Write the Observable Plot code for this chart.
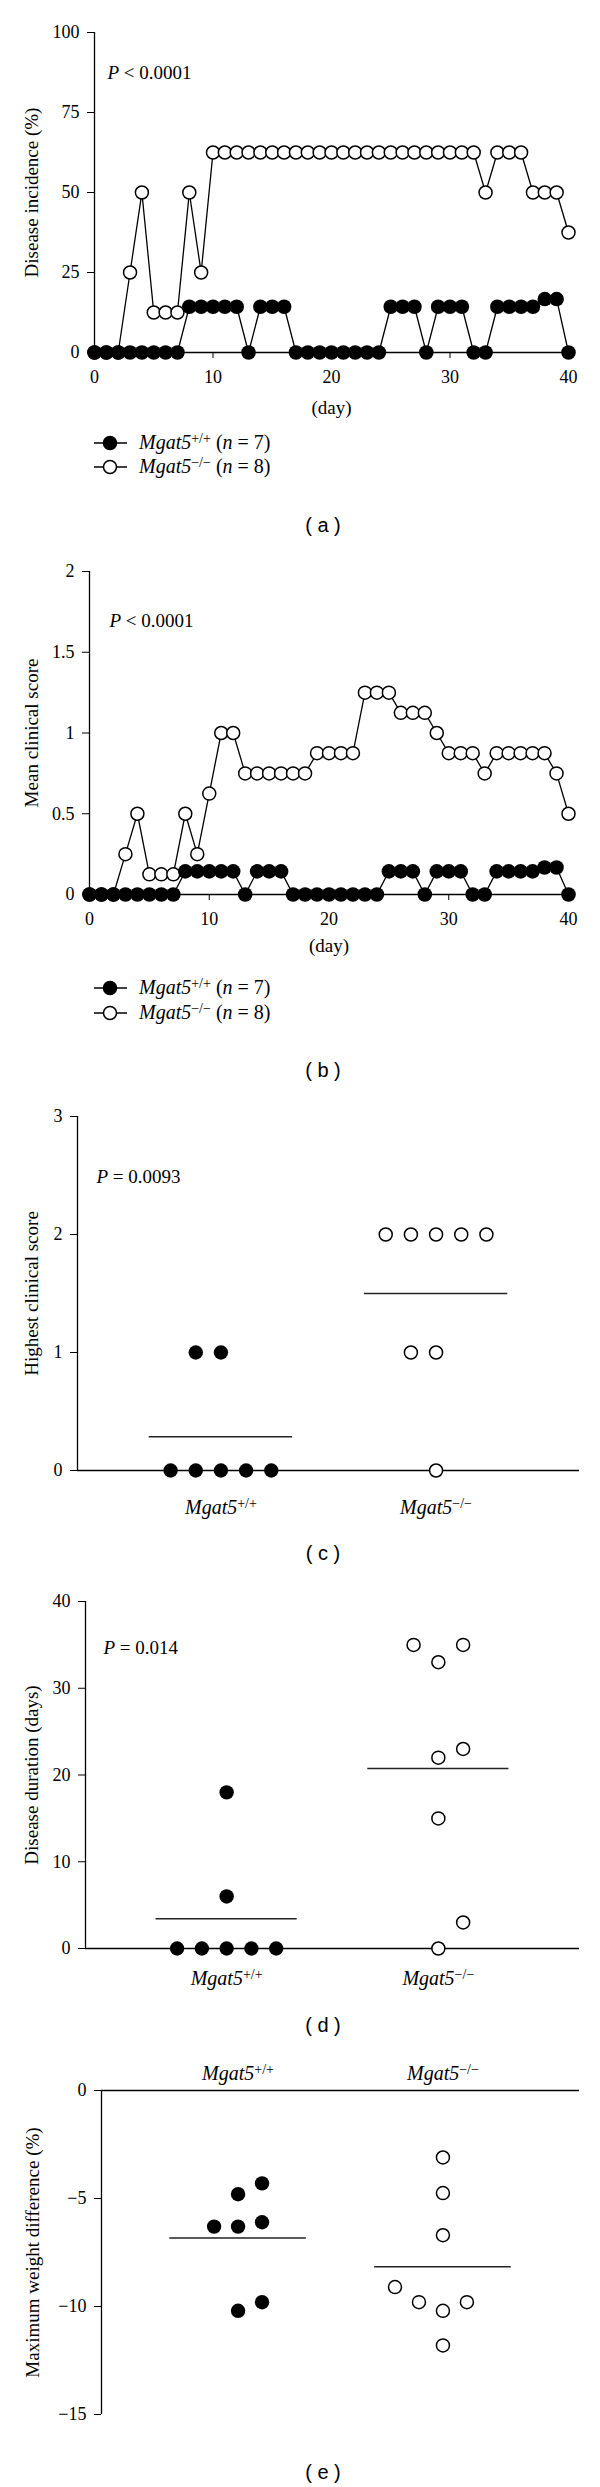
<!DOCTYPE html>
<html><head><meta charset="utf-8">
<script src="https://cdn.jsdelivr.net/npm/d3@7"></script>
<script src="https://cdn.jsdelivr.net/npm/@observablehq/plot@0.6"></script>
<style>
body{margin:0;background:#fff;}
#root{position:relative;width:600px;height:2487px;font-family:"Liberation Serif","Times New Roman",serif;color:#000;overflow:hidden;}
.blk{position:absolute;left:0;}
.cap{position:absolute;font-family:"Liberation Sans",Arial,sans-serif;font-size:20px;transform:translate(-50%,-50%);white-space:pre;line-height:1;}
.leg{position:absolute;left:94px;height:24px;display:flex;align-items:center;font-size:20px;white-space:pre;}
.leg svg{margin-right:11px;}
.sup{font-size:70%;vertical-align:0.45em;}
</style></head><body><div id="root"></div>
<script>
// ---------- data ----------
const days = [0,1,2,3,4,5,6,7,8,9,10,11,12,13,14,15,16,17,18,19,20,21,22,23,24,25,26,27,28,29,30,31,32,33,34,35,36,37,38,39,40];
const incidenceWT = [0,0,0,0,0,0,0,0,14.3,14.3,14.3,14.3,14.3,0,14.3,14.3,14.3,0,0,0,0,0,0,0,0,14.3,14.3,14.3,0,14.3,14.3,14.3,0,0,14.3,14.3,14.3,14.3,16.7,16.7,0];
const incidenceKO = [0,0,0,25,50,12.5,12.5,12.5,50,25,62.5,62.5,62.5,62.5,62.5,62.5,62.5,62.5,62.5,62.5,62.5,62.5,62.5,62.5,62.5,62.5,62.5,62.5,62.5,62.5,62.5,62.5,62.5,50,62.5,62.5,62.5,50,50,50,37.5];
const scoreWT = [0,0,0,0,0,0,0,0,0.143,0.143,0.143,0.143,0.143,0,0.143,0.143,0.143,0,0,0,0,0,0,0,0,0.143,0.143,0.143,0,0.143,0.143,0.143,0,0,0.143,0.143,0.143,0.143,0.167,0.167,0];
const scoreKO = [0,0,0,0.25,0.5,0.125,0.125,0.125,0.5,0.25,0.625,1,1,0.75,0.75,0.75,0.75,0.75,0.75,0.875,0.875,0.875,0.875,1.25,1.25,1.25,1.125,1.125,1.125,1,0.875,0.875,0.875,0.75,0.875,0.875,0.875,0.875,0.875,0.75,0.5];

const groups = ["Mgat5+/+", "Mgat5\u2212/\u2212"];
const legendNames = ["Mgat5+/+", "Mgat5\u2212/\u2212"];
const legendN = [7, 8];

const highestWT = [0,0,0,0,0,1,1];
const highestWTcol = [-2,-1,0,1,2,-1,0];
const highestKO = [2,2,2,2,2,1,1,0];
const highestKOcol = [-2,-1,0,1,2,-1,0,0];

const durationWT = [0,0,0,0,0,6,18];
const durationWTcol = [-2,-1,0,1,2,0,0];
const durationKO = [35,33,35,22,23,15,3,0];
const durationKOcol = [-1,0,1,0,1,0,1,0];

const weightWT = [-6.3,-6.3,-6.1,-4.8,-4.3,-10.2,-9.8];
const weightWTcol = [-1,0,1,0,1,0,1];
const weightKO = [-3.1,-4.75,-6.7,-9.1,-9.8,-10.2,-9.8,-11.8];
const weightKOcol = [0,0,0,-2,-1,0,1,0];

const pTexts = ["P < 0.0001", "P < 0.0001", "P = 0.0093", "P = 0.014"];
const yLabels = ["Disease incidence (%)", "Mean clinical score", "Highest clinical score", "Disease duration (days)", "Maximum weight difference (%)"];
const captions = ["( a )", "( b )", "( c )", "( d )", "( e )"];

// ---------- helpers ----------
const FONT = '"Liberation Serif","Times New Roman",serif';
const root = document.getElementById("root");
const NS = "http://www.w3.org/2000/svg";
const numFmt = d3.format("");

function addTspan(t, s, attrs) {
  const ts = document.createElementNS(NS, "tspan");
  for (const k in attrs) ts.setAttribute(k, attrs[k]);
  ts.textContent = s;
  t.appendChild(ts);
}
function richText(svg) {
  svg.querySelectorAll("text").forEach(t => {
    if (t.querySelector("tspan")) return;
    const s = t.textContent;
    let m;
    if ((m = s.match(/^Mgat5(.+)$/))) {
      t.textContent = "";
      addTspan(t, "Mgat5", {"font-style": "italic"});
      addTspan(t, m[1], {"font-size": "70%", "dy": "-0.45em"});
    } else if ((m = s.match(/^P( [<=] .*)$/))) {
      t.textContent = "";
      addTspan(t, "P", {"font-style": "italic"});
      addTspan(t, m[1], {});
    }
  });
}
function place(svg, top) {
  richText(svg);
  const d = document.createElement("div");
  d.className = "blk";
  d.style.top = top + "px";
  d.appendChild(svg);
  root.appendChild(d);
}
function caption(text, y) {
  const d = document.createElement("div");
  d.className = "cap";
  d.style.left = "323px";
  d.style.top = y + "px";
  d.textContent = text;
  root.appendChild(d);
}
function legend(y0, y1) {
  [y0, y1].forEach((y, i) => {
    const d = document.createElement("div");
    d.className = "leg";
    d.style.top = (y - 12) + "px";
    const fill = i === 0 ? "#000" : "#fff";
    const name = legendNames[i].replace("Mgat5", "");
    d.innerHTML = `<svg width="34" height="16"><line x1="0" x2="33" y1="8" y2="8" stroke="#000" stroke-width="1.5"/><circle cx="16" cy="8" r="6.5" fill="${fill}" stroke="#000" stroke-width="1.5"/></svg><span><i>Mgat5</i><span class="sup">${name}</span> (<i>n</i> = ${legendN[i]})</span>`;
    root.appendChild(d);
  });
}

function timePanel(o) {
  const rows = days.map((d, i) => ({day: d, wt: o.wt[i], ko: o.ko[i]}));
  return Plot.plot({
    width: 600, height: o.h,
    marginLeft: o.ml, marginRight: 32, marginTop: o.mt, marginBottom: o.mb,
    style: {fontFamily: FONT, fontSize: "18px", background: "transparent", overflow: "visible", color: "#000"},
    x: {domain: [0, 40], axis: null},
    y: {domain: o.yDomain, axis: null},
    marks: [
      Plot.axisX({ticks: [0, 10, 20, 30, 40], tickSize: 6, tickPadding: 12, label: null, tickFormat: numFmt}),
      Plot.axisY({ticks: o.yTicks, tickSize: 7, tickPadding: 8, label: null, tickFormat: numFmt}),
      Plot.ruleY([o.yDomain[0]], {stroke: "#000", strokeWidth: 1.3}),
      Plot.ruleX([0], {stroke: "#000", strokeWidth: 1.3}),
      Plot.line(rows, {x: "day", y: "ko", stroke: "#000", strokeWidth: 1.3}),
      Plot.dot(rows, {x: "day", y: "ko", r: 6.5, fill: "#fff", stroke: "#000", strokeWidth: 1.5}),
      Plot.line(rows, {x: "day", y: "wt", stroke: "#000", strokeWidth: 1.3}),
      Plot.dot(rows, {x: "day", y: "wt", r: 7.3, fill: "#000"}),
      Plot.text([o.yLabel], {text: d => d, frameAnchor: "left", textAnchor: "middle", lineAnchor: "middle", rotate: -90, dx: o.labelDx, fontSize: 19}),
      Plot.text([o.pText], {text: d => d, frameAnchor: "top-left", textAnchor: "start", lineAnchor: "middle", dx: o.pdx, dy: o.pdy, fontSize: 19}),
      Plot.text(["(day)"], {text: d => d, frameAnchor: "bottom", textAnchor: "middle", lineAnchor: "middle", dy: o.dayDy, fontSize: 19})
    ]
  });
}

const STEP = 0.117;
function groupPanel(o) {
  const pts = [];
  o.wt.forEach((v, i) => pts.push({g: 1, c: o.wtCol[i], v, type: "wt"}));
  o.ko.forEach((v, i) => pts.push({g: 2, c: o.koCol[i], v, type: "ko"}));
  const means = [{g: 1, m: d3.mean(o.wt)}, {g: 2, m: d3.mean(o.ko)}];
  const baseY = o.top ? 0 : o.yDomain[0];
  return Plot.plot({
    width: 600, height: o.h,
    marginLeft: o.ml, marginRight: 21, marginTop: o.mt, marginBottom: o.mb,
    style: {fontFamily: FONT, fontSize: "18px", background: "transparent", overflow: "visible", color: "#000"},
    x: {domain: [1/3, 8/3], axis: null},
    y: {domain: o.yDomain, axis: null},
    marks: [
      Plot.axisY({ticks: o.yTicks, tickSize: 7, tickPadding: 8, label: null, tickFormat: d3.format("d")}),
      Plot.ruleY([baseY], {stroke: "#000", strokeWidth: 1.3}),
      Plot.ruleX([1/3], {stroke: "#000", strokeWidth: 1.3}),
      Plot.ruleY(means, {y: "m", x1: d => d.g - 1/3, x2: d => d.g + 1/3, stroke: "#222", strokeWidth: 1.6}),
      Plot.dot(pts.filter(d => d.type === "wt"), {x: d => d.g + d.c * STEP, y: "v", r: 7.2, fill: "#000"}),
      Plot.dot(pts.filter(d => d.type === "ko"), {x: d => d.g + d.c * STEP, y: "v", r: 6.5, fill: "#fff", stroke: "#000", strokeWidth: 1.5}),
      Plot.text(groups, {x: (d, i) => i + 1, text: d => d, frameAnchor: o.top ? "top" : "bottom", textAnchor: "middle", lineAnchor: "middle", dy: o.catDy, fontSize: 20}),
      Plot.text([o.yLabel], {text: d => d, frameAnchor: "left", textAnchor: "middle", lineAnchor: "middle", rotate: -90, dx: o.labelDx, fontSize: 19}),
      ...(o.pText ? [Plot.text([o.pText], {text: d => d, frameAnchor: "top-left", textAnchor: "start", lineAnchor: "middle", dx: o.pdx, dy: o.pdy, fontSize: 19})] : [])
    ]
  });
}

// ---------- panel (a) ----------
place(timePanel({wt: incidenceWT, ko: incidenceKO, yDomain: [0, 100], yTicks: [0, 25, 50, 75, 100],
  yLabel: yLabels[0], pText: pTexts[0], h: 430, ml: 94, mt: 32, mb: 78, labelDx: -63, pdx: 13, pdy: 40, dayDy: 55}), 0);
legend(443, 467);
caption(captions[0], 525);

// ---------- panel (b) ----------
place(timePanel({wt: scoreWT, ko: scoreKO, yDomain: [0, 2], yTicks: [0, 0.5, 1, 1.5, 2],
  yLabel: yLabels[1], pText: pTexts[1], h: 420, ml: 89, mt: 31, mb: 66, labelDx: -58, pdx: 20, pdy: 49, dayDy: 51}), 540);
legend(988, 1013);
caption(captions[1], 1070);

// ---------- panel (c) ----------
place(groupPanel({wt: highestWT, wtCol: highestWTcol, ko: highestKO, koCol: highestKOcol,
  yDomain: [0, 3], yTicks: [0, 1, 2, 3], yLabel: yLabels[2], pText: pTexts[2],
  h: 440, ml: 77, mt: 26, mb: 60, catDy: 37, labelDx: -46, pdx: 19, pdy: 60}), 1090);
caption(captions[2], 1553);

// ---------- panel (d) ----------
place(groupPanel({wt: durationWT, wtCol: durationWTcol, ko: durationKO, koCol: durationKOcol,
  yDomain: [0, 40], yTicks: [0, 10, 20, 30, 40], yLabel: yLabels[3], pText: pTexts[3],
  h: 420, ml: 85, mt: 21, mb: 52, catDy: 30, labelDx: -54, pdx: 18, pdy: 46}), 1580);
caption(captions[3], 2025);

// ---------- panel (e) ----------
place(groupPanel({wt: weightWT, wtCol: weightWTcol, ko: weightKO, koCol: weightKOcol,
  yDomain: [-15, 0], yTicks: [0, -5, -10, -15], yLabel: yLabels[4], top: true,
  h: 380, ml: 101, mt: 40, mb: 16, catDy: -17, labelDx: -69}), 2050);
caption(captions[4], 2472);
</script>
</body></html>
